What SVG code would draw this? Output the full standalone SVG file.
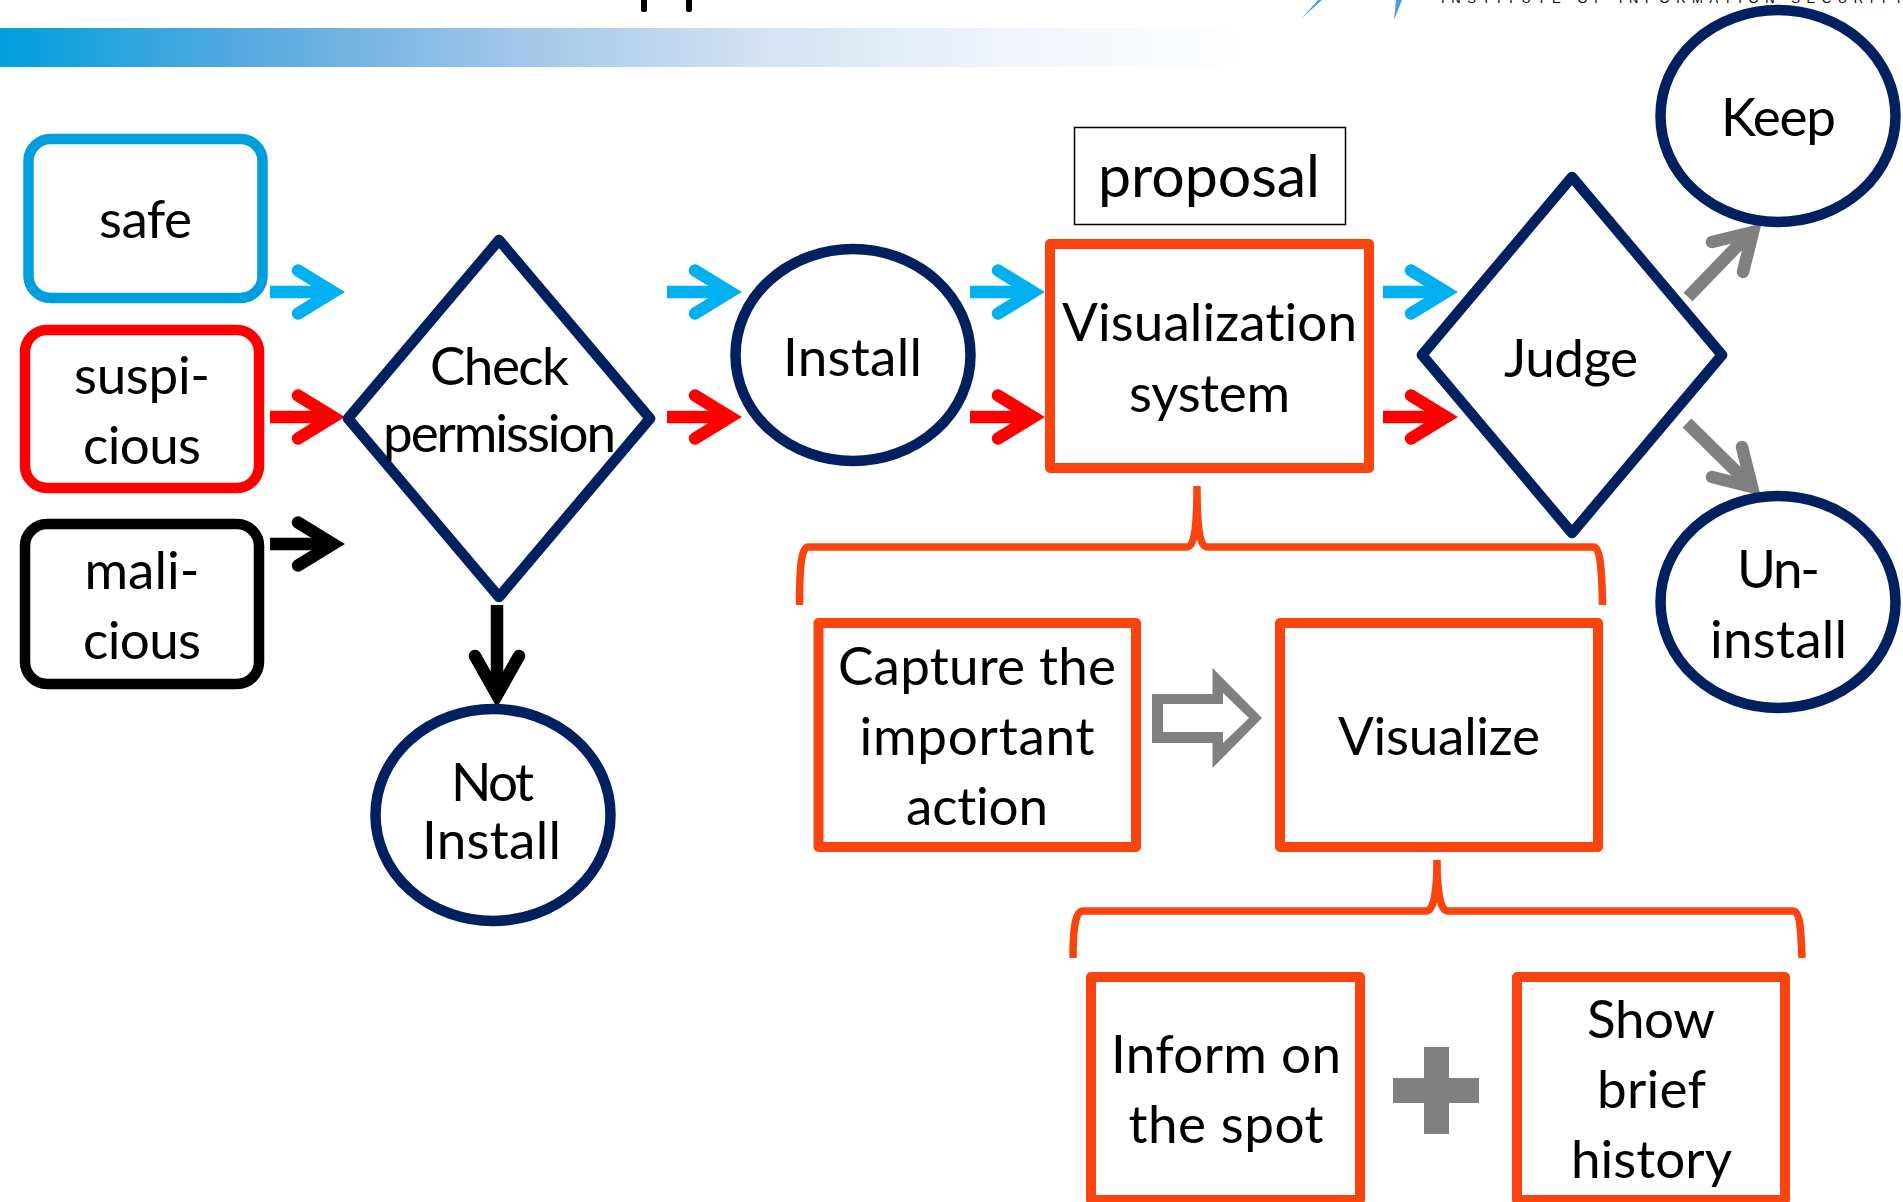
<svg xmlns="http://www.w3.org/2000/svg" width="1903" height="1202" viewBox="0 0 1903 1202">
<style>
text{font-family:"Lato","Liberation Sans",sans-serif;font-size:53px;fill:#000;text-anchor:middle;font-variant-ligatures:none}
.n{fill:#fff;stroke:#002060;stroke-width:10.5;stroke-linejoin:round}
.o{fill:#fff;stroke:#FA4410;stroke-width:10;stroke-linejoin:round}
.r{fill:#fff;stroke-width:10.5}
.a{fill:none;stroke-linecap:butt;stroke-width:12.5}
.h{fill:none;stroke-linecap:round;stroke-linejoin:miter;stroke-width:12.5;stroke-miterlimit:10}
.c{stroke:#00B0F0}.d{stroke:#F00}.k{stroke:#000}.g{stroke:#808080}
.b{fill:none;stroke:#FA4410;stroke-width:7.5}
</style>
<defs>
<linearGradient id="bar" x1="0" x2="1" y1="0" y2="0">
<stop offset="0" stop-color="#009FDD"/><stop offset=".205" stop-color="#5AAAE0"/><stop offset=".41" stop-color="#A0C6E8"/><stop offset=".615" stop-color="#D5E3F3"/><stop offset=".8" stop-color="#F0F4FB"/><stop offset="1" stop-color="#fff"/>
</linearGradient>
<g id="ar"><path class="a" d="M0 0H58"/><path class="h" d="M28-21.500 63 0 28 21.500"/></g>
</defs>
<g id="header">
<rect x="0" y="28" width="1250" height="39" fill="url(#bar)"/>
<rect x="641" y="-4" width="6" height="16" rx="2" fill="#000"/>
<rect x="686" y="-4" width="6" height="16" rx="2" fill="#000"/>
<path d="M1301 19 1318 0H1322Z" fill="#4F9BE8"/><path d="M1394 20 1396 0H1402Z" fill="#4F9BE8"/>
<text x="1672" y="3" textLength="462" style="font-size:13px;font-family:'Liberation Sans',sans-serif">INSTITUTE OF INFORMATION SECURITY</text>
</g>
<g id="connectors">
<use href="#ar" x="270" y="292" class="c"/><use href="#ar" x="270" y="417" class="d"/><use href="#ar" x="270" y="544" class="k"/>
<use href="#ar" x="667" y="292" class="c"/><use href="#ar" x="667" y="417" class="d"/>
<use href="#ar" x="970" y="292" class="c"/><use href="#ar" x="970" y="417" class="d"/>
<use href="#ar" x="1383" y="292" class="c"/><use href="#ar" x="1383" y="417" class="d"/>
<path class="a k" d="M497 605V690"/><path class="h k" d="M475 656 497 695 519 656"/>
<path class="a g" d="M1688 297 1750 233"/><path class="h g" d="M1712 242 1753 232 1743 272"/>
<path class="a g" d="M1687 423 1750 485"/><path class="h g" d="M1742 447 1752 487 1712 477"/>
<path d="M1152 694H1212.500V668L1262 718 1212.500 768V743H1152ZM1163 704V732H1223V743L1249 718 1223 693V704Z" fill="#808080" fill-rule="evenodd"/>
<path d="M1424 1047H1449V1078H1479V1103H1449V1134H1424V1103H1393V1078H1424Z" fill="#808080"/>
<path class="b" d="M799.500 605C799.500 570 801 547 808 547H1187C1194 547 1197 530 1197 486C1197 530 1200 547 1207 547H1594C1600 547 1602 570 1602.500 605"/>
<path class="b" d="M1073 958C1073 930 1075 911 1083 911H1426C1433 911 1437 895 1437 860C1437 895 1441 911 1448 911H1793C1800 911 1801 930 1802 958"/>
</g>
<g id="safe"><rect class="r" x="28.500" y="139" width="234" height="159" rx="22" stroke="#009FDB"/><text x="145.500" y="238" textLength="93">safe</text></g>
<g id="suspicious"><rect class="r" x="25" y="330" width="234" height="158" rx="22" stroke="#F00"/><text x="142" y="394" textLength="136">suspi-</text><text x="142" y="464" textLength="118">cious</text></g>
<g id="malicious"><rect class="r" x="25" y="524" width="234" height="160" rx="22" stroke="#000"/><text x="142" y="589" textLength="115">mali-</text><text x="142" y="659" textLength="118">cious</text></g>
<g id="check"><path class="n" d="M499 240 650 418.500 499 597 348 418.500Z"/><text x="499.500" y="385" textLength="139">Check</text><text x="499.500" y="452" textLength="233">permission</text></g>
<g id="not-install"><ellipse class="n" cx="493" cy="815" rx="117.500" ry="106"/><text x="492.500" y="801" textLength="83">Not</text><text x="491.500" y="859" textLength="139">Install</text></g>
<g id="install"><ellipse class="n" cx="853" cy="355" rx="117.500" ry="106"/><text x="852.500" y="376" textLength="139">Install</text></g>
<g id="proposal"><rect x="1074.500" y="127.500" width="271" height="97" fill="#fff" stroke="#000" stroke-width="1.500"/><text x="1209" y="197" textLength="222" style="font-size:59px">proposal</text></g>
<g id="visualization"><rect class="o" x="1050" y="244" width="319" height="224"/><text x="1209.500" y="341" textLength="295">Visualization</text><text x="1209.500" y="412" textLength="161">system</text></g>
<g id="judge"><path class="n" d="M1572 177 1722 355 1572 533 1422 355Z"/><text x="1571" y="377" textLength="134">Judge</text></g>
<g id="keep"><ellipse class="n" cx="1778" cy="116" rx="117.500" ry="106"/><text x="1778.500" y="136" textLength="115">Keep</text></g>
<g id="uninstall"><ellipse class="n" cx="1778" cy="602" rx="117.500" ry="106"/><text x="1778.500" y="588" textLength="83">Un-</text><text x="1778.500" y="658" textLength="137">install</text></g>
<g id="capture"><rect class="o" x="818.500" y="623" width="317.500" height="224"/><text x="977" y="685" textLength="278">Capture the</text><text x="977" y="755" textLength="235">important</text><text x="977" y="825" textLength="142">action</text></g>
<g id="visualize"><rect class="o" x="1280" y="623" width="318" height="224"/><text x="1439" y="755" textLength="202">Visualize</text></g>
<g id="inform"><rect class="o" x="1091" y="977" width="269" height="223"/><text x="1226" y="1073" textLength="230">Inform on</text><text x="1226" y="1143" textLength="195">the spot</text></g>
<g id="show"><rect class="o" x="1517" y="977" width="268" height="223"/><text x="1651" y="1038" textLength="128">Show</text><text x="1651.500" y="1108" textLength="109">brief</text><text x="1651.500" y="1178" textLength="161">history</text></g>
</svg>
